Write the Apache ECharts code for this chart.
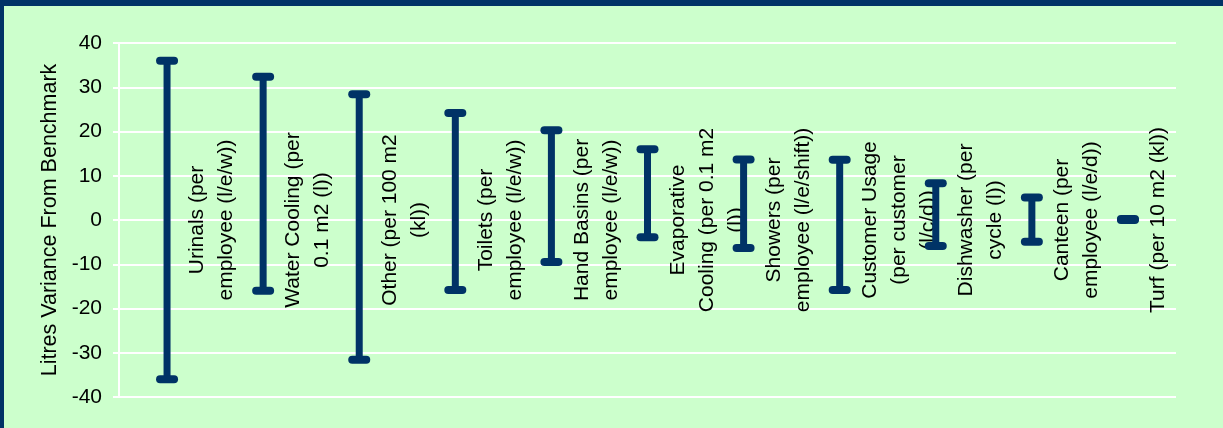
<!DOCTYPE html>
<html>
<head>
<meta charset="utf-8">
<script src="https://cdn.jsdelivr.net/npm/echarts@6/dist/echarts.min.js"></script>
<style>
  html, body { margin: 0; padding: 0; }
  #chart { width: 1223px; height: 428px; }
</style>
</head>
<body>
<div id="chart"></div>
<script>
// categories (label text broken the same way as the picture)
const categories = [
  'Urinals (per\nemployee (l/e/w))',
  'Water Cooling (per\n0.1 m2 (l))',
  'Other (per 100 m2\n(kl))',
  'Toilets (per\nemployee (l/e/w))',
  'Hand Basins (per\nemployee (l/e/w))',
  'Evaporative\nCooling (per 0.1 m2\n(l))',
  'Showers (per\nemployee (l/e/shift))',
  'Customer Usage\n(per customer\n(l/c/d))',
  'Dishwasher (per\ncycle (l))',
  'Canteen (per\nemployee (l/e/d))',
  'Turf (per 10 m2 (kl))'
]

// variance range per category
const highValues = [36, 32.4, 28.4, 24.2, 20.3, 16.0, 13.7, 13.6, 8.3, 5.1, 0.2]
const lowValues = [-36, -16, -31.6, -15.8, -9.5, -3.9, -6.3, -15.8, -5.9, -4.9, 0]

const NAVY = '#003366'
const FONT = "'Liberation Sans', Arial, sans-serif"

const seriesData = categories.map((c, i) => [i, lowValues[i], highValues[i]])

const chart = echarts.init(document.getElementById('chart'))

// draws one high-low bar with caps and its rotated label
const renderRange = (params, api) => {
  const idx = api.value(0)
  const top = api.coord([idx, api.value(2)])
  const bottom = api.coord([idx, api.value(1)])
  const zero = api.coord([idx, 0])
  const x = top[0]
  const capHalf = 7
  const capStyle = { stroke: NAVY, lineWidth: 8, lineCap: 'round' }
  return {
    type: 'group',
    children: [
      { type: 'line', shape: { x1: x, y1: top[1], x2: x, y2: bottom[1] }, style: { stroke: NAVY, lineWidth: 7 } },
      { type: 'line', shape: { x1: x - capHalf, y1: top[1], x2: x + capHalf, y2: top[1] }, style: capStyle },
      { type: 'line', shape: { x1: x - capHalf, y1: bottom[1], x2: x + capHalf, y2: bottom[1] }, style: capStyle },
      {
        type: 'text',
        x: x + 16,
        y: zero[1],
        rotation: Math.PI / 2,
        style: {
          text: categories[idx],
          fill: '#000',
          font: '21px ' + FONT,
          lineHeight: 29,
          align: 'center',
          verticalAlign: 'top'
        }
      }
    ]
  }
}

const option = {
  backgroundColor: '#CCFFCC',
  animation: false,
  graphic: [
    { type: 'rect', left: 0, top: 0, shape: { width: 1223, height: 6 }, style: { fill: NAVY } },
    { type: 'rect', left: 0, top: 0, shape: { width: 4, height: 428 }, style: { fill: NAVY } }
  ],
  grid: { left: 119, right: 47, top: 43, bottom: 31 },
  xAxis: {
    type: 'category',
    data: categories,
    axisLine: { show: false },
    axisTick: { show: false },
    axisLabel: { show: false },
    splitLine: { show: false }
  },
  yAxis: {
    type: 'value',
    min: -40,
    max: 40,
    interval: 10,
    name: 'Litres Variance From Benchmark',
    nameLocation: 'middle',
    nameGap: 57,
    nameRotate: 90,
    nameTextStyle: { color: '#000', fontSize: 21.5, fontFamily: FONT },
    axisLine: { show: true, lineStyle: { color: '#fff', width: 2 } },
    axisTick: { show: true, length: 6, lineStyle: { color: '#fff', width: 2 } },
    axisLabel: { color: '#000', fontSize: 21, fontFamily: FONT, margin: 17 },
    splitLine: { show: true, lineStyle: { color: '#fff', width: 2 } }
  },
  series: [
    {
      type: 'custom',
      renderItem: renderRange,
      encode: { x: 0, y: [1, 2] },
      data: seriesData,
      clip: false
    }
  ]
}

chart.setOption(option)
</script>
</body>
</html>
